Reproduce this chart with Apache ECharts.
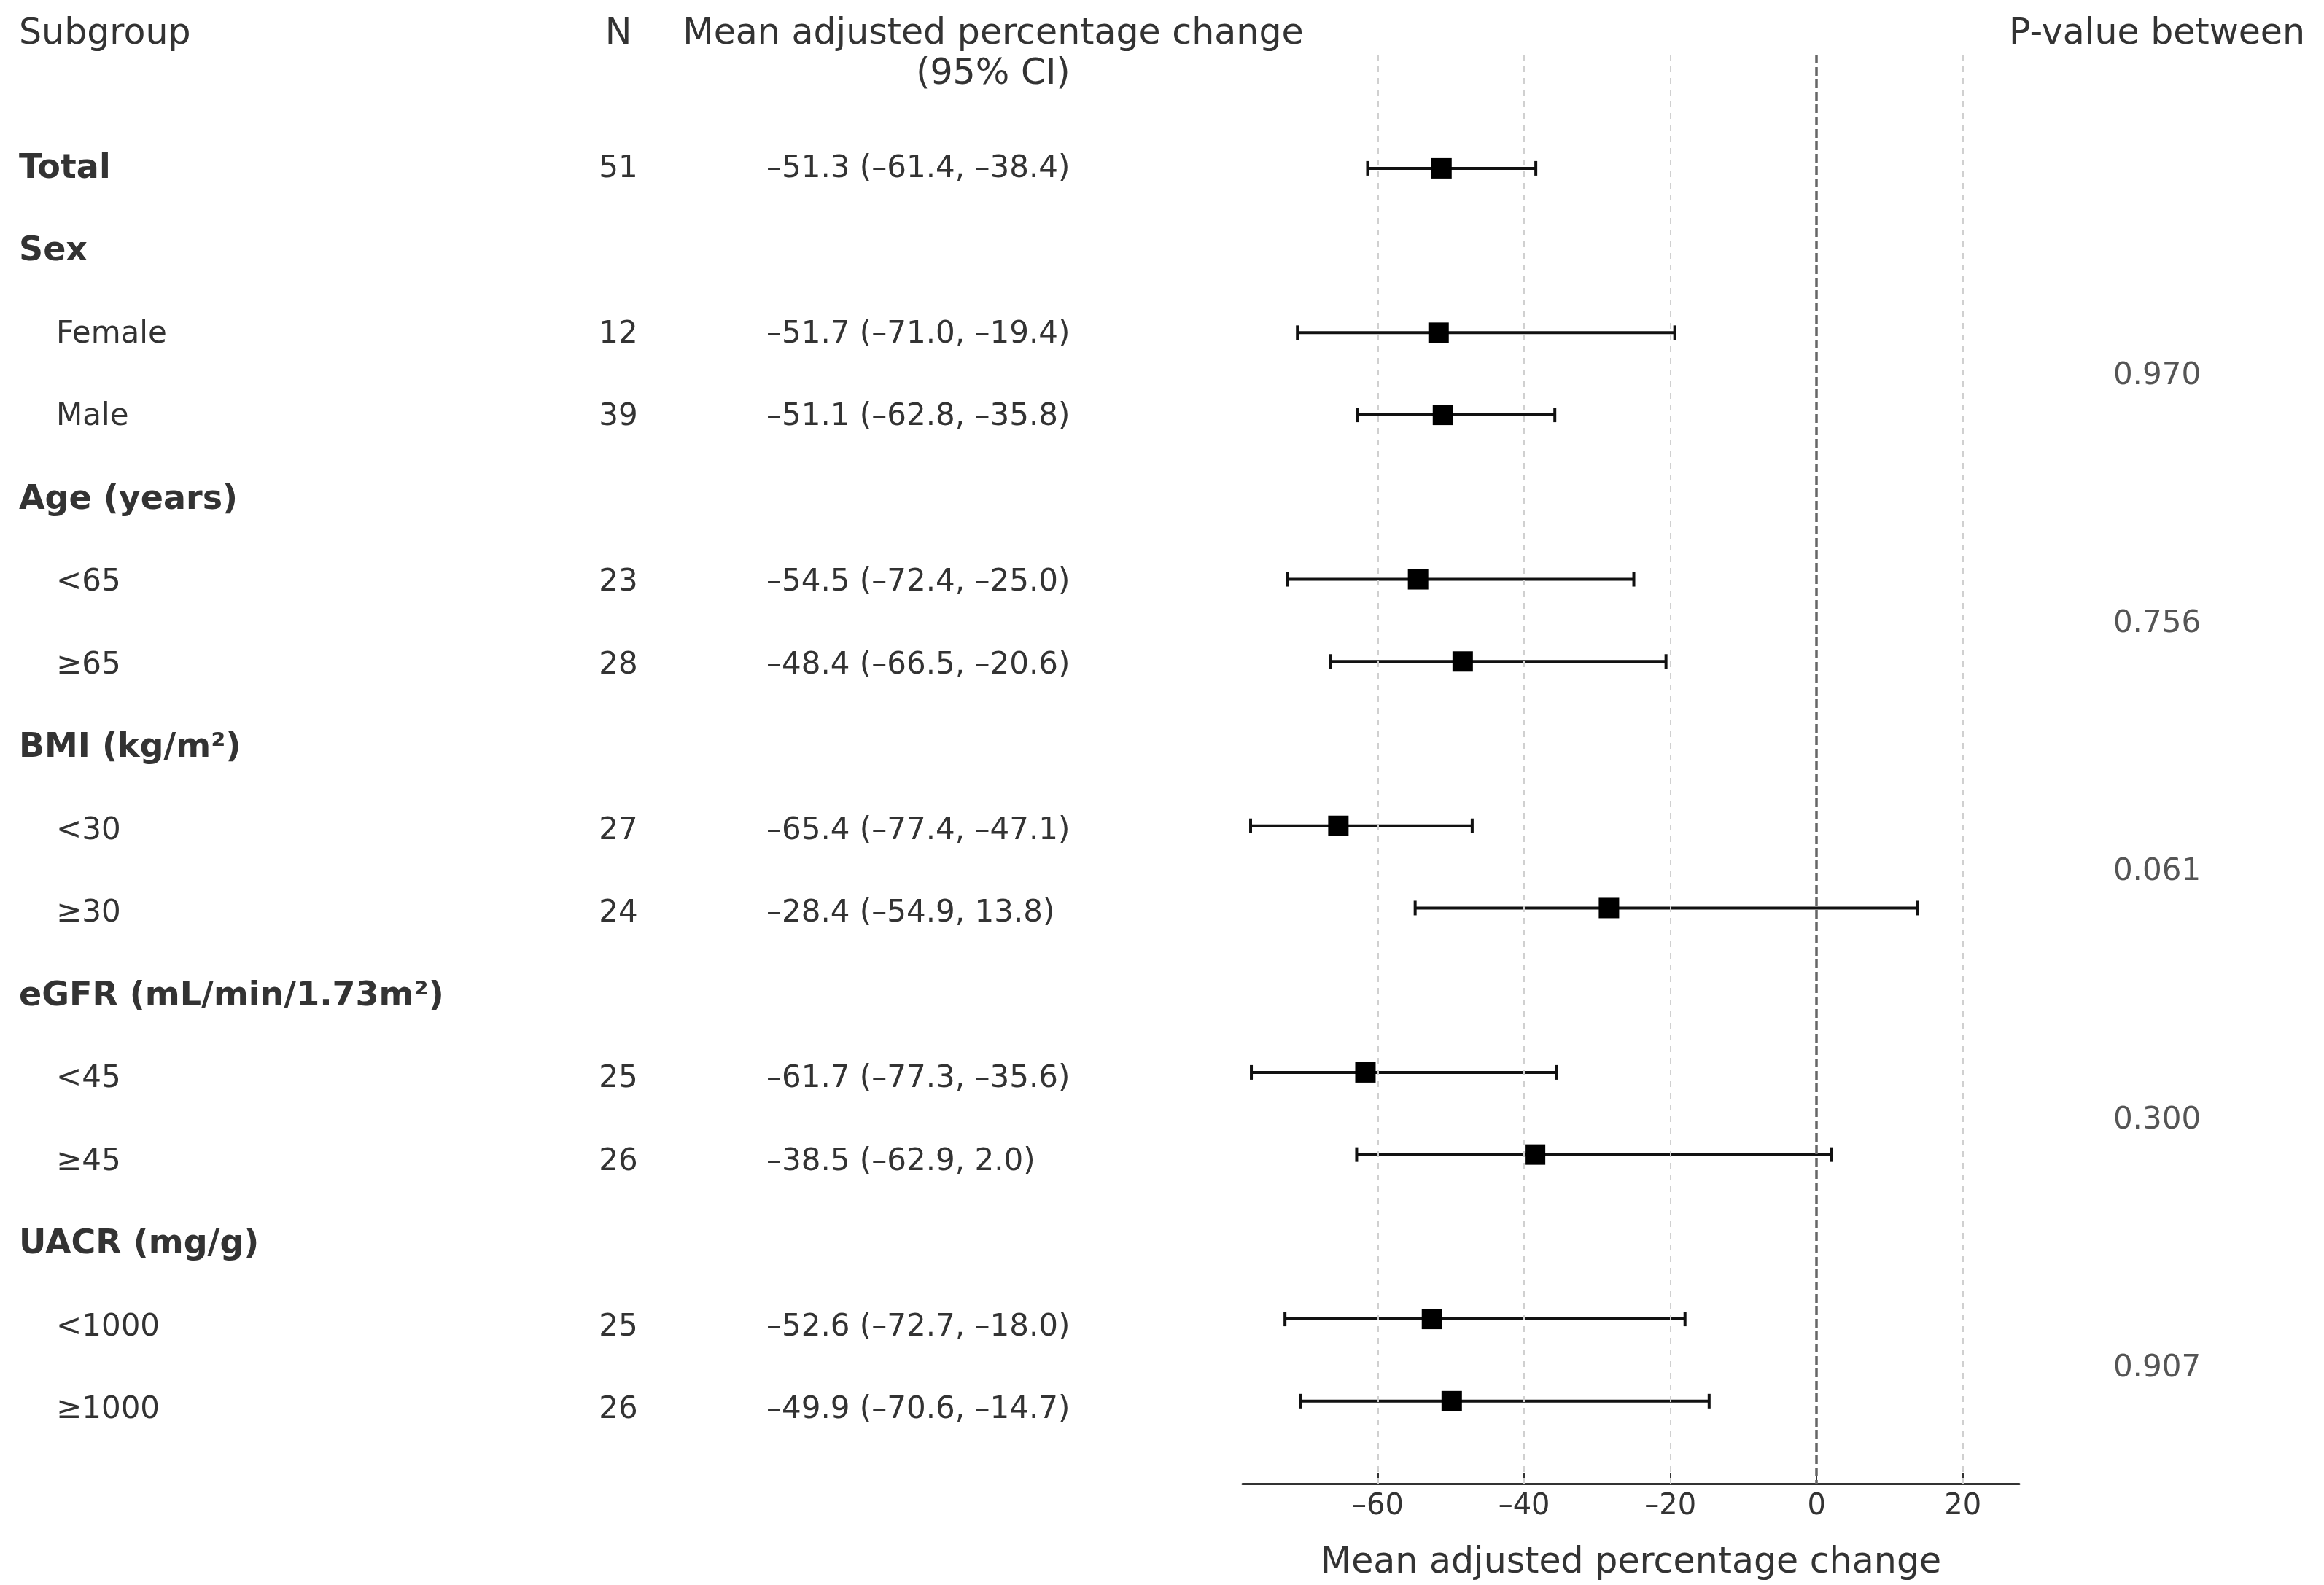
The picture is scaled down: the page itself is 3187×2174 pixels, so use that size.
<!DOCTYPE html>
<html>
<head>
<meta charset="utf-8">
<script src="https://cdn.jsdelivr.net/npm/echarts@6/dist/echarts.min.js"></script>
<style>
html,body{margin:0;padding:0;background:#fff;}
#chart{width:3187px;height:2174px;}
</style>
</head>
<body>
<div id="chart"></div>
<script>
// ---------------- data ----------------
const subgroupLabels = ['Total','Sex','Female','Male','Age (years)','<65','≥65','BMI (kg/m²)','<30','≥30','eGFR (mL/min/1.73m²)','<45','≥45','UACR (mg/g)','<1000','≥1000'];
const isHeading      = [true, true, false, false, true, false, false, true, false, false, true, false, false, true, false, false];
const nValues        = [51, null, 12, 39, null, 23, 28, null, 27, 24, null, 25, 26, null, 25, 26];
const meanValues     = [-51.3, null, -51.7, -51.1, null, -54.5, -48.4, null, -65.4, -28.4, null, -61.7, -38.5, null, -52.6, -49.9];
const lowerValues    = [-61.4, null, -71.0, -62.8, null, -72.4, -66.5, null, -77.4, -54.9, null, -77.3, -62.9, null, -72.7, -70.6];
const upperValues    = [-38.4, null, -19.4, -35.8, null, -25.0, -20.6, null, -47.1, 13.8, null, -35.6, 2.0, null, -18.0, -14.7];
const pValues        = ['0.970', '0.756', '0.061', '0.300', '0.907'];
const pRowPairs      = [[2,3],[5,6],[8,9],[11,12],[14,15]];
const xTicks         = [-60, -40, -20, 0, 20];
const gridTicks      = [-60, -40, -20, 20];
const xRange         = [-78.5, 27.7];
const headers = {subgroup: 'Subgroup', n: 'N', ci1: 'Mean adjusted percentage change', ci2: '(95% CI)', p: 'P-value between'};
const xAxisTitle = 'Mean adjusted percentage change';

// ---------------- layout ----------------
const W = 3187, H = 2174;
const plotTop = 75, plotBottomY = 2048, plotLeft = 1704, plotRight = 2769;
const yRange = [-1.383, 16.004];
const col = {heading: 26, item: 77, n: 848, ci: 1051, p: 2958};
const FONT = 'DejaVu Sans';
const TXT = '#333';

const fmt = v => (v < 0 ? '–' : '') + Math.abs(v).toFixed(1);

const headingData = [], itemData = [], nData = [], ciData = [], pData = [], markerData = [], barData = [];
subgroupLabels.forEach((lab, i) => {
  if (isHeading[i]) headingData.push({name: lab, value: [col.heading, i]});
  else itemData.push({name: lab, value: [col.item, i]});
  if (nValues[i] != null) nData.push({name: String(nValues[i]), value: [col.n, i]});
  if (meanValues[i] != null) {
    ciData.push({name: fmt(meanValues[i]) + ' (' + fmt(lowerValues[i]) + ', ' + fmt(upperValues[i]) + ')', value: [col.ci, i]});
    markerData.push([meanValues[i], i]);
    barData.push([lowerValues[i], upperValues[i], i]);
  }
});
pValues.forEach((p, k) => {
  const pr = pRowPairs[k];
  pData.push({name: p, value: [col.p, (pr[0] + pr[1]) / 2]});
});

function textSeries(data, align, opts) {
  opts = opts || {};
  return {
    type: 'scatter', xAxisIndex: 1, yAxisIndex: 1, data: data,
    symbolSize: 1, itemStyle: {color: 'rgba(0,0,0,0)', opacity: 1}, silent: true, clip: false,
    label: {show: true, position: 'inside', align: align, verticalAlign: 'middle',
      formatter: '{b}', fontFamily: FONT, fontSize: opts.size || 42, fontWeight: opts.bold ? 'bold' : 'normal',
      color: opts.color || TXT, opacity: 1, textBorderWidth: 0}
  };
}

function headerText(text, x, y, align) {
  return {type: 'text', x: x, y: y, silent: true,
    style: {text: text, fill: TXT, font: '49px "' + FONT + '"', align: align, verticalAlign: 'middle', textAlign: align, textVerticalAlign: 'middle'}};
}

const chart = echarts.init(document.getElementById('chart'), null, {renderer: 'canvas'});
chart.setOption({
  animation: false,
  backgroundColor: '#fff',
  grid: [
    {left: plotLeft, width: plotRight - plotLeft, top: plotTop, height: plotBottomY - plotTop},
    {left: 0, width: W, top: plotTop, height: plotBottomY - plotTop}
  ],
  xAxis: [
    {type: 'value', gridIndex: 0, min: xRange[0], max: xRange[1], position: 'bottom',
      name: xAxisTitle, nameLocation: 'middle', nameGap: 85,
      nameTextStyle: {fontFamily: FONT, fontSize: 49, color: TXT},
      axisLine: {show: true, onZero: false, lineStyle: {color: '#333', width: 3}},
      axisTick: {show: true, inside: true, length: 14, lineStyle: {color: '#333', width: 2}, customValues: xTicks},
      axisLabel: {show: true, customValues: xTicks, fontFamily: FONT, fontSize: 40, color: TXT, margin: 12,
        formatter: v => (v < 0 ? '–' : '') + Math.abs(v)},
      splitLine: {show: false}},
    {type: 'value', gridIndex: 1, min: 0, max: W, show: false}
  ],
  yAxis: [
    {type: 'value', gridIndex: 0, min: yRange[0], max: yRange[1], inverse: true, show: false},
    {type: 'value', gridIndex: 1, min: yRange[0], max: yRange[1], inverse: true, show: false}
  ],
  graphic: [
    headerText(headers.subgroup, col.heading, 47, 'left'),
    headerText(headers.n, col.n, 47, 'center'),
    headerText(headers.ci1, 1362, 47, 'center'),
    headerText(headers.ci2, 1362, 102, 'center'),
    headerText(headers.p, col.p, 47, 'center')
  ],
  series: [
    {type: 'line', xAxisIndex: 0, yAxisIndex: 0, data: [], silent: true,
      markLine: {silent: true, symbol: 'none', label: {show: false}, animation: false,
        lineStyle: {type: [8, 8], color: '#d0d0d0', width: 2},
        data: gridTicks.map(v => ({xAxis: v}))}},
    {type: 'line', xAxisIndex: 0, yAxisIndex: 0, data: [], silent: true,
      markLine: {silent: true, symbol: 'none', label: {show: false}, animation: false,
        lineStyle: {type: [12, 5], color: '#666', width: 3.5},
        data: [{xAxis: 0}]}},
    {type: 'custom', xAxisIndex: 0, yAxisIndex: 0, data: barData, silent: true, z: 3,
      encode: {x: [0, 1], y: 2},
      renderItem: function (params, api) {
        const p1 = api.coord([api.value(0), api.value(2)]);
        const p2 = api.coord([api.value(1), api.value(2)]);
        const cap = 10;
        const st = {stroke: '#111', lineWidth: 4};
        return {type: 'group', children: [
          {type: 'line', shape: {x1: p1[0], y1: p1[1], x2: p2[0], y2: p2[1]}, style: st},
          {type: 'line', shape: {x1: p1[0], y1: p1[1] - cap, x2: p1[0], y2: p1[1] + cap}, style: st},
          {type: 'line', shape: {x1: p2[0], y1: p2[1] - cap, x2: p2[0], y2: p2[1] + cap}, style: st}
        ]};
      }},
    {type: 'scatter', xAxisIndex: 0, yAxisIndex: 0, data: markerData, symbol: 'rect', symbolSize: 28,
      itemStyle: {color: '#000', opacity: 1}, z: 5, silent: true},
    textSeries(headingData, 'left', {bold: true, size: 46}),
    textSeries(itemData, 'left'),
    textSeries(nData, 'center'),
    textSeries(ciData, 'left'),
    textSeries(pData, 'center', {color: '#555'})
  ]
});
</script>
</body>
</html>
